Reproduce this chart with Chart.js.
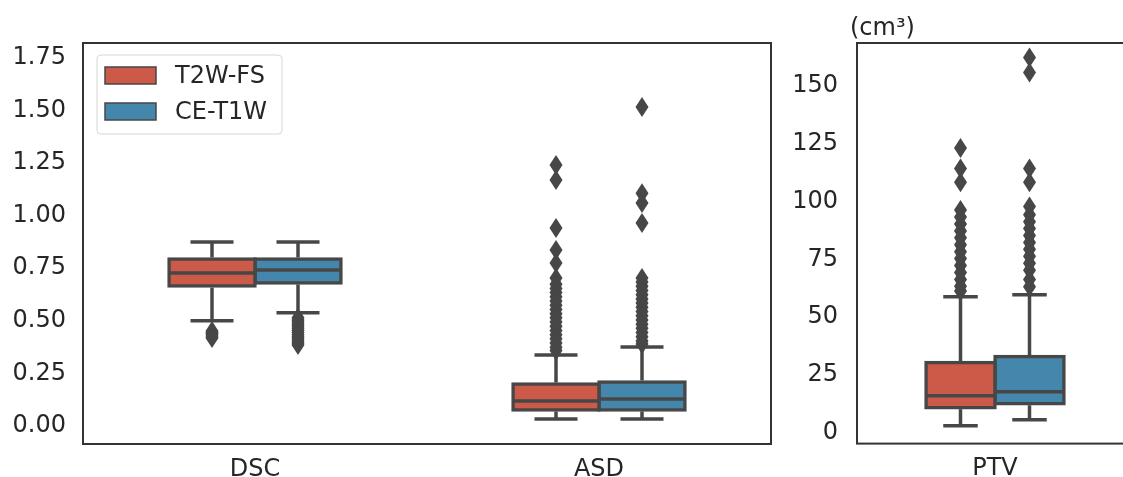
<!DOCTYPE html>
<html>
<head>
<meta charset="utf-8">
<script src="https://cdn.jsdelivr.net/npm/chart.js@4.4.1/dist/chart.umd.min.js"></script>
<style>
  html, body { margin: 0; padding: 0; background: #fff; overflow: hidden; width: 1123px; height: 477px; }
  #left { position: absolute; left: 0; top: 0; }
  #right { position: absolute; left: 780px; top: 0; }
</style>
</head>
<body>
<canvas id="left" width="800" height="477"></canvas>
<canvas id="right" width="360" height="477"></canvas>
<script>
// box stats per category: [lower whisker, q1, median, q3, upper whisker]
const leftCategories = ["DSC", "ASD"];
const t2wLeft = [[0.486, 0.651, 0.713, 0.780, 0.861], [0.019, 0.062, 0.105, 0.185, 0.323]];
const ceLeft = [[0.524, 0.666, 0.728, 0.780, 0.861], [0.019, 0.062, 0.114, 0.195, 0.361]];
const t2wLeftOutliers = [
    [0.437, 0.43, 0.425, 0.418, 0.41, 0.404],
    [1.227, 1.155, 0.927, 0.823, 0.761, 0.69, 0.66, 0.64, 0.62, 0.60, 0.58, 0.56, 0.54, 0.52, 0.50, 0.48, 0.46, 0.44, 0.42, 0.40, 0.38, 0.36, 0.345]
];
const ceLeftOutliers = [
    [0.50, 0.49, 0.48, 0.47, 0.46, 0.45, 0.44, 0.43, 0.42, 0.41, 0.40, 0.39, 0.38, 0.371],
    [1.503, 1.093, 1.046, 0.951, 0.69, 0.67, 0.65, 0.63, 0.61, 0.59, 0.57, 0.55, 0.53, 0.51, 0.49, 0.47, 0.45, 0.43, 0.41, 0.39, 0.375]
];
const leftTicks = [0, 0.25, 0.5, 0.75, 1.0, 1.25, 1.5, 1.75];

const rightCategories = ["PTV"];
const t2wRight = [[1.7, 9.5, 14.7, 29.0, 57.5]];
const ceRight = [[4.3, 11.2, 16.4, 31.6, 58.4]];
const t2wRightOutliers = [[121.9, 113, 107, 95, 92, 89, 86, 83, 80, 77, 74, 71, 68, 65, 62, 60]];
const ceRightOutliers = [[161, 154.5, 113, 107, 96.5, 93, 90, 87, 84, 81, 78, 75, 72, 69, 65, 61.8]];
const rightTicks = [0, 25, 50, 75, 100, 125, 150];

const seriesNames = ["T2W-FS", "CE-T1W"];
const red = "#cc5a49";
const blue = "#4586ac";
const lineColor = "#474747";
const textColor = "#262626";
const font = { family: "DejaVu Sans", size: 24 };
const lw = 3.5;

function line(ctx, x1, y1, x2, y2) {
    ctx.beginPath();
    ctx.moveTo(x1, y1);
    ctx.lineTo(x2, y2);
    ctx.stroke();
}

const boxParts = {
    id: "boxParts",
    afterDatasetsDraw(chart) {
        const ctx = chart.ctx;
        const y = chart.scales.y;
        chart.data.datasets.forEach((ds, di) => {
            const meta = chart.getDatasetMeta(di);
            meta.data.forEach((bar, i) => {
                const [low, q1, med, q3, high] = ds.stats[i];
                const x = bar.x;
                const half = bar.width / 2;
                ctx.save();
                ctx.strokeStyle = lineColor;
                ctx.lineWidth = lw;
                line(ctx, x, y.getPixelForValue(q3) - 1.5, x, y.getPixelForValue(high));
                line(ctx, x, y.getPixelForValue(q1) + 1.5, x, y.getPixelForValue(low));
                line(ctx, x - half / 2, y.getPixelForValue(high), x + half / 2, y.getPixelForValue(high));
                line(ctx, x - half / 2, y.getPixelForValue(low), x + half / 2, y.getPixelForValue(low));
                line(ctx, x - half, y.getPixelForValue(med), x + half, y.getPixelForValue(med));
                ctx.fillStyle = lineColor;
                ds.outliers[i].forEach((v) => {
                    const py = y.getPixelForValue(v);
                    ctx.beginPath();
                    ctx.moveTo(x, py - 10);
                    ctx.lineTo(x + 6.5, py);
                    ctx.lineTo(x, py + 10);
                    ctx.lineTo(x - 6.5, py);
                    ctx.closePath();
                    ctx.fill();
                });
                ctx.restore();
            });
        });
    },
    afterDraw(chart, args, opts) {
        const ctx = chart.ctx;
        const a = chart.chartArea;
        ctx.save();
        ctx.strokeStyle = "#333333";
        ctx.lineWidth = 2;
        ctx.strokeRect(a.left, a.top, a.right - a.left, a.bottom - a.top);

        if (opts.legend) {
            const lx = a.left + 14;
            const ly = a.top + 12;
            ctx.beginPath();
            ctx.roundRect(lx, ly, 185, 79, 4);
            ctx.fillStyle = "rgba(255,255,255,0.8)";
            ctx.fill();
            ctx.strokeStyle = "#d6d6d6";
            ctx.lineWidth = 1;
            ctx.stroke();
            chart.data.datasets.forEach((ds, di) => {
                const cy = ly + 20.5 + di * 36;
                ctx.fillStyle = ds.backgroundColor;
                ctx.fillRect(lx + 8, cy - 8.5, 51, 17);
                ctx.strokeStyle = lineColor;
                ctx.lineWidth = 1.5;
                ctx.strokeRect(lx + 8, cy - 8.5, 51, 17);
                ctx.fillStyle = textColor;
                ctx.font = font.size + "px " + font.family;
                ctx.textBaseline = "middle";
                ctx.fillText(ds.label, lx + 78, cy + 1);
            });
        }
        if (opts.unit) {
            ctx.fillStyle = textColor;
            ctx.font = font.size + "px " + font.family;
            ctx.textBaseline = "middle";
            ctx.fillText(opts.unit, a.left - 7, 29);
        }
        ctx.restore();
    }
};

function makeDataset(label, color, stats, outliers) {
    return {
        label: label,
        data: stats.map((s) => [s[1], s[3]]),
        stats: stats,
        outliers: outliers,
        backgroundColor: color,
        borderColor: lineColor,
        borderWidth: lw,
        borderSkipped: false,
        inflateAmount: lw / 2,
        categoryPercentage: 0.5,
        barPercentage: 1.0
    };
}

function makeChart(id, labels, datasets, ticks, yMin, yMax, yWidth, pad, tickPad, fmt, extra) {
    return new Chart(document.getElementById(id), {
        type: "bar",
        data: { labels: labels, datasets: datasets },
        options: {
            responsive: false,
            animation: false,
            layout: { padding: { top: 43, right: pad, left: 0, bottom: 0 } },
            plugins: {
                legend: { display: false },
                tooltip: { enabled: false },
                boxParts: extra
            },
            scales: {
                x: {
                    grid: { display: false, drawTicks: false },
                    border: { display: false },
                    ticks: { color: textColor, font: font, padding: 11 },
                    afterFit: (s) => { s.height = 33; }
                },
                y: {
                    min: yMin,
                    max: yMax,
                    grid: { display: false, drawTicks: false },
                    border: { display: false },
                    ticks: { color: textColor, font: font, padding: tickPad, labelOffset: 3, callback: fmt },
                    afterBuildTicks: (s) => { s.ticks = ticks.map((v) => ({ value: v })); },
                    afterFit: (s) => { s.width = yWidth; }
                }
            }
        },
        plugins: [boxParts]
    });
}

makeChart("left", leftCategories, [
    makeDataset(seriesNames[0], red, t2wLeft, t2wLeftOutliers),
    makeDataset(seriesNames[1], blue, ceLeft, ceLeftOutliers)
], leftTicks, -0.1, 1.807, 83, 29, 17, (v) => Number(v).toFixed(2), { legend: true });

makeChart("right", rightCategories, [
    makeDataset(seriesNames[0], red, t2wRight, t2wRightOutliers),
    makeDataset(seriesNames[1], blue, ceRight, ceRightOutliers)
], rightTicks, -6.05, 167.3, 77, 7, 19, (v) => String(v), { unit: "(cm³)" });
</script>
</body>
</html>
